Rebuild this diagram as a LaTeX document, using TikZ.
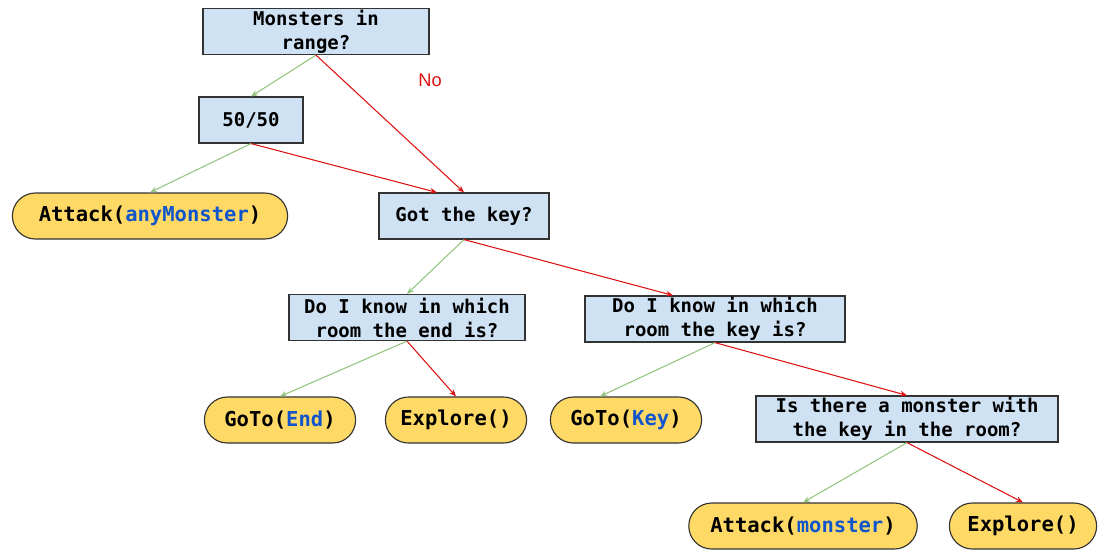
\documentclass[tikz,border=0pt]{standalone}
\usepackage{fontspec}
\setmonofont{DejaVu Sans Mono}
\newfontfamily\labelfont{Liberation Sans}
\usepackage{xcolor}
\usetikzlibrary{shapes.misc,arrows.meta}
\definecolor{boxblue}{HTML}{CFE2F3}
\definecolor{leafyellow}{HTML}{FFD966}
\definecolor{yesgreen}{HTML}{93C47D}
\definecolor{nored}{HTML}{DD1111}
\definecolor{argblue}{HTML}{1155CC}
\tikzset{
question/.style={
  rectangle,draw=black!80,line width=0.8pt,fill=boxblue,
  align=center,inner sep=1pt,minimum height=1.15cm,
  font=\fontsize{13.5}{17}\selectfont\ttfamily\bfseries
},
action/.style={
  rounded rectangle,draw=black!80,line width=0.8pt,fill=leafyellow,
  align=center,inner sep=1pt,minimum height=1.15cm,
  font=\fontsize{14.6}{17}\selectfont\ttfamily\bfseries
},
yes/.style={yesgreen,line width=0.75pt,-{Stealth[length=5pt,width=4pt]}},
no/.style={nored,line width=0.75pt,-{Stealth[length=5pt,width=4pt]}},
}
\newcommand{\argtext}[1]{\textcolor{argblue}{#1}}
\begin{document}
\begin{tikzpicture}[x=0.025cm,y=-0.025cm]
\useasboundingbox (0,0) rectangle (1102,549);
% the questions
\node[question,minimum width=5.65cm,minimum height=1.025cm] (monsters) at (316,31.5) {Monsters in\\range?};
\node[question,minimum width=2.6cm] (fifty) at (251,120) {50/50};
\node[question,minimum width=4.25cm] (gotkey) at (464,216) {Got the key?};
\node[question,minimum width=5.9cm] (knowend) at (407,317.5) {Do I know in which\\room the end is?};
\node[question,minimum width=6.5cm] (knowkey) at (715,319) {Do I know in which\\room the key is?};
\node[question,minimum width=7.55cm] (monsterroom) at (907,419) {Is there a monster with\\the key in the room?};
% the actions
\node[action,minimum width=6.95cm] (attackany) at (150,216) {Attack(\argtext{anyMonster})};
\node[action,minimum width=3.85cm] (gotoend) at (280,420) {GoTo(\argtext{End})};
\node[action,minimum width=3.6cm] (exploreend) at (456,420) {Explore()};
\node[action,minimum width=3.85cm] (gotokey) at (626,420) {GoTo(\argtext{Key})};
\node[action,minimum width=5.78cm] (attackmon) at (803,526) {Attack(\argtext{monster})};
\node[action,minimum width=3.75cm] (explorekey) at (1023,526) {Explore()};
\node[nored,font=\labelfont\fontsize{13}{15}\selectfont] (nolabel) at (430,80) {No};
% the arrows
\draw[yes] (monsters.south) -- (fifty.north);
\draw[no]  (monsters.south) -- (gotkey.north);
\draw[yes] (fifty.south) -- (attackany.north);
\draw[no]  (fifty.south) -- ([xshift=-0.675cm]gotkey.north);
\draw[yes] (gotkey.south) -- (knowend.north);
\draw[no]  (gotkey.south) -- ([xshift=-1.05cm]knowkey.north);
\draw[yes] (knowend.south) -- (gotoend.north);
\draw[no]  (knowend.south) -- (exploreend.north);
\draw[yes] (knowkey.south) -- ([xshift=-0.65cm]gotokey.north);
\draw[no]  (knowkey.south) -- (monsterroom.north);
\draw[yes] (monsterroom.south) -- (attackmon.north);
\draw[no]  (monsterroom.south) -- (explorekey.north);
\end{tikzpicture}
\end{document}
